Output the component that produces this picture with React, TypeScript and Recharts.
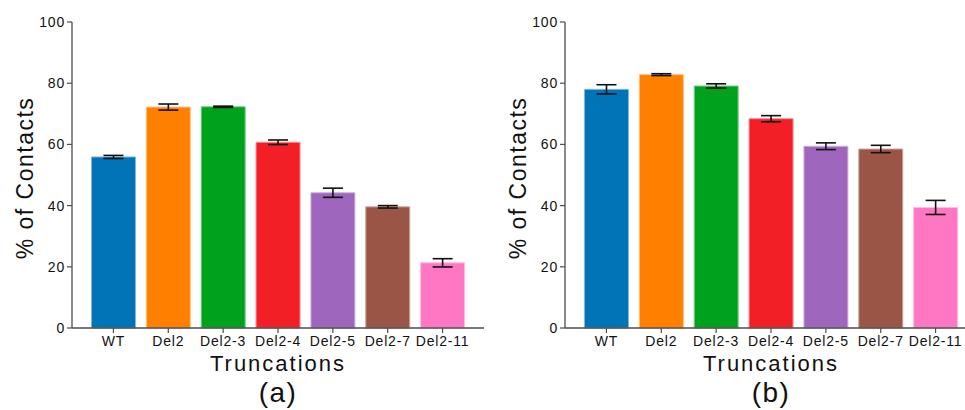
import React from "react";
import { BarChart, Bar, XAxis, YAxis, ErrorBar, Cell } from "recharts";

const categories = ["WT", "Del2", "Del2-3", "Del2-4", "Del2-5", "Del2-7", "Del2-11"];
const contactsA = [55.9, 72.2, 72.3, 60.7, 44.2, 39.6, 21.3];
const errorsA = [0.5, 1.0, 0.2, 0.75, 1.5, 0.4, 1.35];
const contactsB = [78.0, 82.8, 79.1, 68.4, 59.4, 58.5, 39.4];
const errorsB = [1.5, 0.3, 0.7, 1.0, 1.1, 1.2, 2.3];
const yTicks = [0, 20, 40, 60, 80, 100];

const FILLS = ["#0174b7", "#ff8000", "#00a11c", "#f21f27", "#9e66bd", "#9a5546", "#ff77c2"];
const EDGES = ["#80b9db", "#ffbf80", "#80d08d", "#f88f93", "#ceb2de", "#ccaaa2", "#ffbbe0"];

const FONT = "'Liberation Sans', Arial, sans-serif";
const AXIS = "#4d4d4d";

function XLabel({ viewBox, tag }: any) {
  const cx = viewBox.x + viewBox.width / 2;
  return (
    <g fontFamily={FONT} fill="#111">
      <text x={cx} y={viewBox.y + 43} textAnchor="middle" fontSize={22} letterSpacing={2}>
        Truncations
      </text>
      <text x={cx} y={viewBox.y + 74} textAnchor="middle" fontSize={28} letterSpacing={1.5}>
        ({tag})
      </text>
    </g>
  );
}

function YLabel({ viewBox }: any) {
  const cy = viewBox.y + viewBox.height / 2 + 3;
  return (
    <text
      x={33}
      y={cy}
      transform={`rotate(-90, 33, ${cy})`}
      textAnchor="middle"
      fontSize={23}
      letterSpacing={1.5}
      fontFamily={FONT}
      fill="#111"
    >
      % of Contacts
    </text>
  );
}

function Panel({ values, errors, tag }: { values: number[]; errors: number[]; tag: string }) {
  const data = categories.map((name, i) => ({ name, value: values[i], err: errors[i] }));
  const tick = { fill: "#111", fontSize: 14, fontFamily: FONT, letterSpacing: 0.8 };
  return (
    <BarChart
      width={490}
      height={410}
      data={data}
      margin={{ top: 22, right: 6, left: 0, bottom: 0 }}
      barCategoryGap="10%"
    >
      <XAxis
        dataKey="name"
        height={82}
        padding={{ left: 14, right: 14 }}
        tick={tick}
        tickSize={5}
        tickMargin={3}
        interval={0}
        axisLine={{ stroke: AXIS, strokeWidth: 1.3 }}
        tickLine={{ stroke: AXIS, strokeWidth: 1.2 }}
        label={<XLabel tag={tag} />}
      />
      <XAxis
        xAxisId="top"
        orientation="top"
        dataKey="name"
        height={0}
        tick={false}
        tickLine={false}
        axisLine={{ stroke: AXIS, strokeWidth: 1.3 }}
      />
      <YAxis
        width={72}
        domain={[0, 100]}
        ticks={yTicks}
        tick={tick}
        tickSize={5}
        tickMargin={2}
        axisLine={{ stroke: AXIS, strokeWidth: 1.3 }}
        tickLine={{ stroke: AXIS, strokeWidth: 1.2 }}
        label={<YLabel />}
      />
      <YAxis
        yAxisId="right"
        orientation="right"
        width={0}
        type="number"
        domain={[0, 100]}
        tick={false}
        tickLine={false}
        axisLine={{ stroke: AXIS, strokeWidth: 1.3 }}
      />
      <Bar dataKey="value" isAnimationActive={false} strokeWidth={1}>
        {data.map((d, i) => (
          <Cell key={d.name} fill={FILLS[i]} stroke={EDGES[i]} />
        ))}
        <ErrorBar dataKey="err" width={10} stroke="#111" strokeWidth={1.6} direction="y" />
      </Bar>
    </BarChart>
  );
}

export default function App() {
  return (
    <div
      style={{
        position: "absolute",
        left: 0,
        top: 0,
        width: 965,
        height: 410,
        overflow: "hidden",
        background: "#fff",
      }}
    >
      <div style={{ position: "absolute", left: 0, top: 0 }}>
        <Panel values={contactsA} errors={errorsA} tag="a" />
      </div>
      <div style={{ position: "absolute", left: 493, top: 0 }}>
        <Panel values={contactsB} errors={errorsB} tag="b" />
      </div>
    </div>
  );
}
